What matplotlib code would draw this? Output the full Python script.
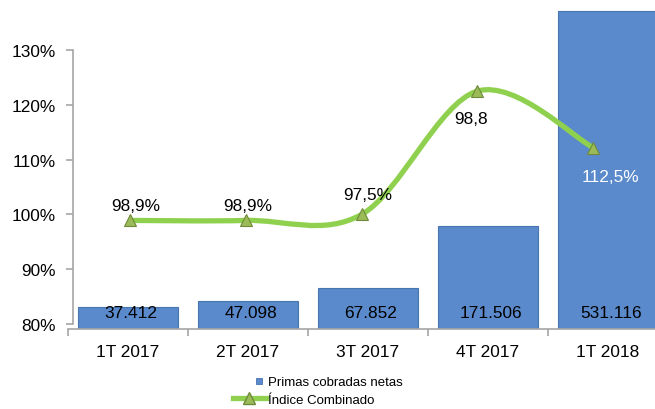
import matplotlib
matplotlib.use("Agg")
import matplotlib.pyplot as plt
from matplotlib.path import Path
from matplotlib.patches import PathPatch
from matplotlib.lines import Line2D
from matplotlib.ticker import FixedLocator, FuncFormatter

# ---- data ----
categories = ["1T 2017", "2T 2017", "3T 2017", "4T 2017", "1T 2018"]
primas = [37.412, 47.098, 67.852, 171.506, 531.116]          # miles
primas_labels = ["37.412", "47.098", "67.852", "171.506", "531.116"]
indice = [98.9, 98.9, 100.0, 122.5, 112.2]                     # plotted position (%)
indice_labels = ["98,9%", "98,9%", "97,5%", "98,8", "112,5%"]
y_ticks = [80, 90, 100, 110, 120, 130]

plt.rcParams['font.family'] = ['Liberation Sans', 'DejaVu Sans']
FS = 12.4
BAR_C = '#5A8ACB'
LINE_C = '#8FD14F'
GRAY = '#A6A6A6'

W, H = 655, 410
fig = plt.figure(figsize=(W / 100, H / 100), dpi=100)

def rect(l, b, r, t):
    return [l / W, (H - b) / H, (r - l) / W, (b - t) / H]

# bar axes (categories, hidden value scale)
ax = fig.add_axes(rect(68, 330, 668, 10))
x = list(range(len(categories)))
ax.bar(x, primas, width=0.833, color=BAR_C, edgecolor='#4775B0', linewidth=0.8, zorder=2)
ax.set_xlim(-0.5, len(categories) - 0.5)
ax.set_ylim(0, 534.5)
ax.set_yticks([])
for s in ['top', 'right', 'left']:
    ax.spines[s].set_visible(False)
ax.spines['bottom'].set_color(GRAY)
ax.spines['bottom'].set_linewidth(1.2)
ax.set_xticks(x)
ax.set_xticklabels(categories, fontsize=FS)
ax.tick_params(axis='x', which='major', length=0, pad=11)
ax.xaxis.set_minor_locator(FixedLocator([i - 0.5 for i in range(len(categories) + 1)]))
ax.tick_params(axis='x', which='minor', length=5, color=GRAY, width=1.2)
for i, lab in enumerate(primas_labels):
    ax.annotate(lab, xy=(i, 0), xytext=(1.9, 12), textcoords='offset points',
                ha='center', va='center', fontsize=FS, zorder=5)

# percentage axes (line)
ax2 = fig.add_axes(rect(72.5, 325, 651, 10))
ax2.patch.set_visible(False)
ax2.set_xlim(-0.5, len(categories) - 0.5)
ax2.set_ylim(80, 80 + 315 / 5.48)
for s in ['top', 'right', 'bottom']:
    ax2.spines[s].set_visible(False)
ax2.spines['left'].set_color(GRAY)
ax2.spines['left'].set_linewidth(1.2)
ax2.spines['left'].set_bounds(y_ticks[0], y_ticks[-1])
ax2.set_xticks([])
ax2.set_yticks(y_ticks)
ax2.yaxis.set_major_formatter(FuncFormatter(lambda v, p: f"{v:.0f}%"))
ax2.tick_params(axis='y', length=5, color=GRAY, width=1.2, labelsize=FS, pad=7)

# Excel-style smoothed line (cubic Bezier, Catmull-Rom control points)
pts = list(zip(x, indice))
verts = [pts[0]]
codes = [Path.MOVETO]
n = len(pts)
for i in range(n - 1):
    p0 = pts[max(i - 1, 0)]
    p1 = pts[i]
    p2 = pts[i + 1]
    p3 = pts[min(i + 2, n - 1)]
    c1 = (p1[0] + (p2[0] - p0[0]) / 6, p1[1] + (p2[1] - p0[1]) / 6)
    c2 = (p2[0] - (p3[0] - p1[0]) / 6, p2[1] - (p3[1] - p1[1]) / 6)
    verts += [c1, c2, p2]
    codes += [Path.CURVE4] * 3
ax2.add_patch(PathPatch(Path(verts, codes), facecolor='none', edgecolor=LINE_C,
                        linewidth=3.8, capstyle='round', joinstyle='round', zorder=3))
ax2.plot(x, indice, linestyle='none', marker='^', markersize=9,
         markerfacecolor='#9BBB59', markeredgecolor='#6F8A3A', markeredgewidth=0.8, zorder=4)

offsets = [(3.6, 10.8), (1.2, 10.8), (4.3, 14.4), (-4.3, -20), (12.2, -20.5)]
colors = ['black', 'black', 'black', 'black', 'white']
for i, (lab, off, c) in enumerate(zip(indice_labels, offsets, colors)):
    ax2.annotate(lab, xy=(i, indice[i]), xytext=off, textcoords='offset points',
                 ha='center', va='center', fontsize=FS, color=c, zorder=6)

# legend (square handle shifted right, next to its label, as in Excel)
sq = Path([(5.0, -2.2), (9.4, -2.2), (9.4, 2.2), (5.0, 2.2), (5.0, -2.2)],
          [Path.MOVETO, Path.LINETO, Path.LINETO, Path.LINETO, Path.CLOSEPOLY])
handles = [
    Line2D([], [], linestyle='none', marker=sq, markersize=18.8,
           markerfacecolor=BAR_C, markeredgecolor='#4775B0', markeredgewidth=0.6),
    Line2D([], [], color=LINE_C, linewidth=3.8, marker='^', markersize=8,
           markerfacecolor='#9BBB59', markeredgecolor='#6F8A3A'),
]
fig.legend(handles, ["Primas cobradas netas", "Índice Combinado"],
           loc='upper left', bbox_to_anchor=(233 / W, (H - 377) / H),
           frameon=False, fontsize=9.5, handlelength=2.5, handletextpad=0.15,
           labelspacing=0.4, borderpad=0, borderaxespad=0, numpoints=1)

fig.savefig("out.png", dpi=100)
